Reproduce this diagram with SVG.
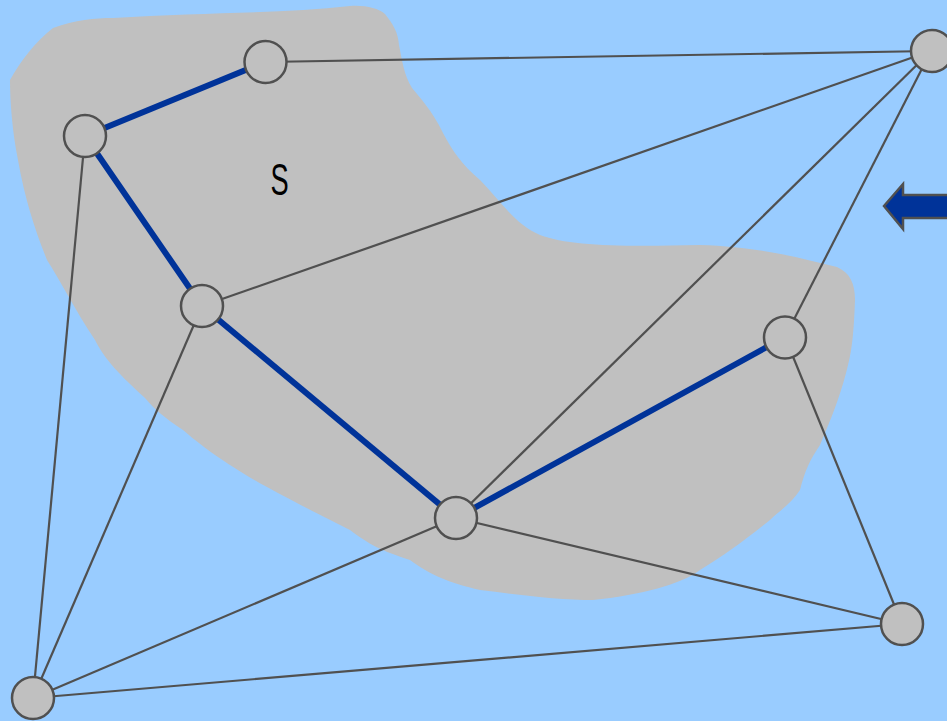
<svg xmlns="http://www.w3.org/2000/svg" width="947" height="721" viewBox="0 0 947 721">
<style>
.e{stroke:#505050;stroke-width:2.2;fill:none}
.b{stroke:#003399;stroke-width:6;fill:none}
.n{fill:#c0c0c0;stroke:#505050;stroke-width:2.5}
</style>
<rect width="947" height="721" fill="#99ccff"/>
<path id="region" fill="#c0c0c0" d="M53,28 C75,20 95,18 113,18 C200,12 280,14 350,6 C365,5 378,8 385,14 C393,24 398,32 399,45 C402,60 404,75 412,88 C420,98 432,110 443,133 C452,150 462,165 480,180 C500,200 515,225 540,235 C570,246 620,247 700,245 C760,247 800,258 837,267 C850,273 855,283 855,300 C854,330 852,350 848,365 C842,390 835,410 820,445 C810,460 805,470 800,490 C790,505 780,510 770,520 C745,540 725,555 700,570 C680,585 640,595 593,600 C560,600 520,595 480,590 C450,583 430,575 410,560 C380,550 370,545 350,530 C330,520 300,505 267,487 C230,467 200,445 183,430 C165,418 155,410 145,398 C120,375 105,360 95,340 C75,310 60,280 47,260 C35,230 25,200 18,160 C12,130 10,100 10,80 C20,62 35,42 53,28 Z"/>
<text x="0" y="0" transform="translate(279.5,195) scale(0.62,1)" font-family="Liberation Sans, sans-serif" font-size="44" text-anchor="middle" fill="#000">S</text>
<g id="connectors">
<line class="e" x1="265" y1="62" x2="931" y2="51"/>
<line class="e" x1="85" y1="136" x2="33" y2="698"/>
<line class="e" x1="202" y1="306" x2="931" y2="51"/>
<line class="e" x1="202" y1="306" x2="33" y2="698"/>
<line class="e" x1="456" y1="518" x2="931" y2="51"/>
<line class="e" x1="456" y1="518" x2="33" y2="698"/>
<line class="e" x1="456" y1="518" x2="902" y2="624"/>
<line class="e" x1="785" y1="337" x2="931" y2="51"/>
<line class="e" x1="785" y1="337" x2="902" y2="624"/>
<line class="e" x1="33" y1="698" x2="902" y2="624"/>
<line class="b" x1="265" y1="62" x2="85" y2="136"/>
<line class="b" x1="85" y1="136" x2="202" y2="306"/>
<line class="b" x1="202" y1="306" x2="456" y2="518"/>
<line class="b" x1="456" y1="518" x2="785" y2="337"/>
</g>
<g id="n1"><circle class="n" cx="265.5" cy="62" r="21"/></g>
<g id="n2"><circle class="n" cx="85" cy="136" r="21"/></g>
<g id="n3"><circle class="n" cx="202" cy="306" r="21"/></g>
<g id="n4"><circle class="n" cx="932" cy="51" r="21"/></g>
<g id="n5"><circle class="n" cx="785" cy="337.5" r="21"/></g>
<g id="n6"><circle class="n" cx="456" cy="518" r="21"/></g>
<g id="n7"><circle class="n" cx="902" cy="624" r="21"/></g>
<g id="n8"><circle class="n" cx="33" cy="698" r="21"/></g>
<g id="arrow"><polygon points="884,206 903,184 903,195 949,195 949,218 903,218 903,229" fill="#003399" stroke="#505050" stroke-width="2.5"/></g>
</svg>
